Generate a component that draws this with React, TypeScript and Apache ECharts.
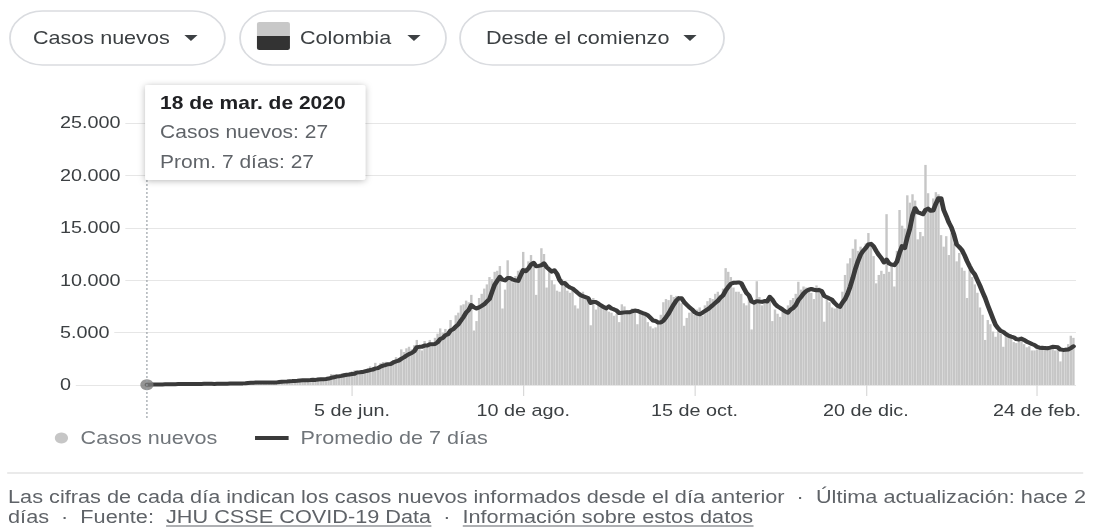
import React, { useEffect, useRef } from 'react';
import * as echarts from 'echarts';

// ---------- DATA (Colombia, new cases per day, from 18 Mar 2020) ----------
const startDate = '2020-03-18';

const dailyMar2020 = [27, 35, 48, 50, 73, 75, 71, 92, 47, 79, 115, 94, 96, 108];
const dailyApr2020 = [92, 98, 116, 81, 112, 98, 121, 111, 170, 60, 131, 98, 63, 197, 125, 127, 133, 135, 233, 110, 144, 180, 137, 187, 253, 310, 262, 202, 194, 208];
const dailyMay2020 = [223, 266, 220, 274, 286, 236, 264, 458, 440, 394, 408, 474, 359, 412, 537, 479, 574, 512, 406, 534, 525, 536, 701, 677, 575, 675, 597, 1046, 1018, 1026, 848];
const dailyJun2020 = [1093, 1109, 979, 1210, 1303, 1400, 1328, 1157, 1260, 1495, 1579, 1773, 1680, 2115, 1558, 2085, 2194, 2208, 2066, 2232, 2380, 2658, 2559, 3400, 3150, 3500, 3650, 3400, 3800, 4300];
const dailyJul2020 = [3700, 3300, 4200, 3650, 4300, 3700, 4500, 4900, 5400, 5000, 5350, 5100, 6200, 5300, 6650, 6900, 7600, 7700, 8050, 7900, 8600, 5200, 6100, 8300, 8700, 9200, 9600, 10300, 10100, 10800, 10900];
const dailyAug2020 = [11350, 7300, 9100, 11900, 10100, 9800, 10400, 10900, 11000, 12700, 11200, 11800, 12400, 11600, 8600, 11300, 13050, 12500, 9300, 10900, 10000, 9600, 9000, 8900, 10100, 9700, 9000, 8800, 9000, 7600, 7300];
const dailySep2020 = [8700, 8900, 8400, 8200, 5700, 8300, 7200, 7600, 7700, 7400, 7300, 7000, 6900, 6600, 6800, 6000, 7700, 7500, 7100, 6900, 7300, 7200, 5800, 7000, 6700, 6600, 6000, 5600, 5400, 5500];
const dailyOct2020 = [5900, 6700, 7900, 8200, 8100, 8600, 8400, 8500, 8300, 7800, 5650, 6400, 6900, 7000, 6700, 7200, 7400, 6600, 7600, 8000, 8300, 8200, 8700, 8900, 8600, 9200, 11150, 10800, 10300, 9300, 8900];
const dailyNov2020 = [8900, 8700, 7800, 7600, 8600, 5300, 8100, 9900, 8400, 7600, 8200, 8300, 8400, 6100, 7200, 6800, 6500, 7000, 7100, 7600, 8100, 8300, 8700, 9850, 9100, 9400, 9300, 9000, 8800, 8200];
const dailyDec2020 = [9500, 9300, 8600, 6040, 8200, 7900, 7400, 7300, 7600, 7700, 8900, 10500, 11600, 12100, 13000, 13900, 12800, 13200, 13000, 13500, 14500, 13400, 12300, 9700, 10500, 10900, 10600, 16300, 10800, 11600, 9400];
const dailyJan2021 = [12800, 16700, 15200, 14900, 18100, 17400, 18200, 17600, 13900, 14600, 14200, 21000, 18300, 16800, 17800, 18400, 18200, 14300, 13200, 14200, 12400, 14500, 13500, 11800, 12600, 11200, 10900, 8300, 11000, 10300, 9600];
const dailyFeb2021 = [8800, 7400, 6700, 4300, 6200, 5800, 5100, 4600, 5200, 4900, 3650, 4800, 4700, 4500, 4100, 4000, 4600, 4300, 3900, 3600, 3700, 3300, 3300, 3400, 3700, 3800, 3600, 3500];
const dailyMar2021 = [3700, 3800, 3300, 3500, 2250, 3400, 3600, 3900, 4700, 4500];

const avgMar2020 = [27, 31, 37, 40, 47, 51, 54, 63, 65, 70, 79, 82, 86, 90];
const avgApr2020 = [92, 97, 102, 100, 103, 104, 104, 105, 115, 108, 115, 113, 107, 118, 113, 117, 124, 125, 135, 141, 144, 150, 151, 155, 164, 192, 210, 226, 229, 231];
const avgMay2020 = [229, 235, 232, 239, 244, 244, 250, 277, 301, 322, 341, 366, 371, 392, 404, 437, 449, 464, 460, 478, 501, 487, 531, 552, 549, 577, 612, 686, 735, 809, 832];
const avgJun2020 = [868, 929, 983, 1006, 1046, 1082, 1203, 1212, 1234, 1305, 1360, 1425, 1467, 1580, 1610, 1755, 1850, 1912, 1987, 2005, 2166, 2254, 2328, 2496, 2630, 2800, 2950, 3050, 3220, 3600];
const avgJul2020 = [3640, 3660, 3760, 3760, 3890, 3880, 3910, 4080, 4380, 4490, 4740, 4850, 5210, 5320, 5570, 5790, 6160, 6490, 6910, 7160, 7630, 7420, 7310, 7410, 7550, 7710, 7960, 8200, 8900, 9570, 9940];
const avgAug2020 = [10320, 10050, 9980, 10210, 10210, 10060, 9990, 9930, 10460, 10970, 10870, 11110, 11490, 11660, 11330, 11370, 11420, 11610, 11250, 11040, 10810, 10950, 10620, 10030, 9690, 9740, 9470, 9300, 9210, 9010, 8790];
const avgSep2020 = [8590, 8470, 8390, 8300, 7830, 7930, 7910, 7760, 7590, 7440, 7310, 7500, 7300, 7210, 7100, 6860, 6900, 6930, 6940, 6940, 7040, 7100, 7070, 6970, 6860, 6790, 6660, 6410, 6160, 6110];
const avgOct2020 = [5960, 5960, 6140, 6460, 6810, 7270, 7690, 8060, 8290, 8270, 7910, 7660, 7420, 7220, 6960, 6810, 6750, 6890, 7060, 7210, 7400, 7610, 7830, 8040, 8330, 8560, 9010, 9360, 9660, 9750, 9750];
const avgNov2020 = [9790, 9720, 9240, 8790, 8540, 7970, 7860, 8000, 7960, 7930, 8010, 7970, 8410, 8130, 7740, 7510, 7360, 7190, 7010, 6900, 7190, 7340, 7610, 8090, 8390, 8720, 8960, 9090, 9160, 9090];
const avgDec2020 = [9040, 9070, 8960, 8490, 8380, 8250, 8130, 7820, 7580, 7450, 7860, 8190, 8710, 9390, 10200, 11100, 11830, 12440, 12800, 13070, 13410, 13470, 13240, 12800, 12410, 12110, 11700, 11960, 11590, 11490, 11440];
const avgJan2021 = [11770, 12600, 13260, 13060, 14100, 14930, 16190, 16870, 16470, 16390, 16290, 16700, 16830, 16630, 16660, 17300, 17810, 17830, 16710, 16130, 15500, 15030, 14330, 13410, 13170, 12890, 12410, 11830, 11330, 10870, 10560];
const avgFeb2021 = [10010, 9470, 8870, 8300, 7610, 6970, 6330, 5730, 5410, 5160, 5060, 4860, 4710, 4620, 4550, 4380, 4340, 4430, 4300, 4140, 4030, 3910, 3810, 3640, 3560, 3540, 3540, 3510];
const avgMar2021 = [3570, 3640, 3630, 3600, 3380, 3350, 3360, 3390, 3520, 3690];

const dailyCases = [
  ...dailyMar2020, ...dailyApr2020, ...dailyMay2020, ...dailyJun2020, ...dailyJul2020, ...dailyAug2020,
  ...dailySep2020, ...dailyOct2020, ...dailyNov2020, ...dailyDec2020, ...dailyJan2021, ...dailyFeb2021, ...dailyMar2021,
];
const sevenDayAvg = [
  ...avgMar2020, ...avgApr2020, ...avgMay2020, ...avgJun2020, ...avgJul2020, ...avgAug2020,
  ...avgSep2020, ...avgOct2020, ...avgNov2020, ...avgDec2020, ...avgJan2021, ...avgFeb2021, ...avgMar2021,
];

const tickDates = ['2020-06-05', '2020-08-10', '2020-10-15', '2020-12-20', '2021-02-24'];
const tickLabels = ['5 de jun.', '10 de ago.', '15 de oct.', '20 de dic.', '24 de feb.'];
const monthAbbr = ['ene.', 'feb.', 'mar.', 'abr.', 'may.', 'jun.', 'jul.', 'ago.', 'sept.', 'oct.', 'nov.', 'dic.'];
const seriesNames = ['Casos nuevos', 'Promedio de 7 días'];
const selectorLabels = ['Casos nuevos', 'Colombia', 'Desde el comienzo'];
const footerLine1 = 'Las cifras de cada día indican los casos nuevos informados desde el día anterior\u00a0 ·\u00a0 Última actualización: hace 2';
const footerPrefix = 'días\u00a0 ·\u00a0 Fuente:\u00a0 ';
const footerLink1 = 'JHU CSSE COVID-19 Data';
const footerSep = '\u00a0 ·\u00a0 ';
const footerLink2 = 'Información sobre estos datos';

// ---------- LAYOUT ----------
const W = 917;
const H = 529;
const SX = 1100 / W;
const FONT = '"Liberation Sans", Arial, Helvetica, sans-serif';

function dayIndex(iso: string): number {
  const [y, m, d] = iso.split('-').map(Number);
  const [y0, m0, d0] = startDate.split('-').map(Number);
  return Math.round((Date.UTC(y, m - 1, d) - Date.UTC(y0, m0 - 1, d0)) / 86400000);
}
function fmt(v: number): string {
  return String(Math.round(v)).replace(/\B(?=(\d{3})+(?!\d))/g, '.');
}
function measure(text: string, size: number, weight = 'normal'): number {
  const c = document.createElement('canvas').getContext('2d');
  if (!c) return text.length * size * 0.5;
  c.font = `${weight} ${size}px ${FONT}`;
  return c.measureText(text).width;
}

export default function App() {
  const ref = useRef<HTMLDivElement>(null);

  useEffect(() => {
    document.body.style.margin = '0';
    document.body.style.overflow = 'hidden';
    if (!ref.current) return;
    const chart = echarts.init(ref.current, undefined, { renderer: 'svg', width: W, height: H });
    const tickDays = tickDates.map(dayIndex);

    chart.setOption({
      animation: false,
      textStyle: { fontFamily: FONT },
      grid: { left: 50, right: 20, top: 123, bottom: H - 385 },
      xAxis: {
        type: 'value',
        min: -33.5,
        max: 358,
        axisLine: { show: false },
        splitLine: { show: false },
        axisTick: {
          show: true,
          customValues: tickDays,
          length: 11,
          lineStyle: { color: '#d9d9d9', width: 1 },
        },
        axisLabel: {
          customValues: tickDays,
          margin: 17,
          fontSize: 16.5,
          color: '#3c4043',
          formatter: (v: number) => {
            const i = tickDays.indexOf(Math.round(v));
            return i >= 0 ? tickLabels[i] : '';
          },
        },
      },
      yAxis: {
        type: 'value',
        min: 0,
        max: 25000,
        interval: 5000,
        axisLine: { show: false },
        axisTick: { show: false },
        splitLine: { lineStyle: { color: '#e6e6e6', width: 1 } },
        axisLabel: {
          inside: true,
          margin: 0,
          fontSize: 16.5,
          color: '#3c4043',
          backgroundColor: '#ffffff',
          padding: [2, 4, 2, 0],
          formatter: (v: number) => fmt(v),
        },
      },
      legend: [
        {
          data: [{ name: seriesNames[0], icon: 'circle' }],
          left: 45.7,
          top: 429,
          padding: 0,
          itemWidth: 22,
          itemHeight: 11,
          selectedMode: false,
          textStyle: { fontSize: 18, color: '#70757a', fontFamily: FONT, lineHeight: 18 },
        },
        {
          data: [{ name: seriesNames[1], icon: 'path://M0,0H28V4H0Z' }],
          left: 212.6,
          top: 429,
          padding: 0,
          itemWidth: 38,
          itemHeight: 4,
          selectedMode: false,
          textStyle: { fontSize: 18, color: '#70757a', fontFamily: FONT, lineHeight: 18 },
        },
      ],
      series: [
        {
          type: 'bar',
          name: seriesNames[0],
          data: dailyCases.map((v, i) => [i, v]),
          barWidth: 2.0,
          itemStyle: { color: '#c6c6c6' },
          silent: true,
          z: 2,
        },
        {
          type: 'line',
          name: seriesNames[1],
          data: sevenDayAvg.map((v, i) => [i, v]),
          showSymbol: false,
          symbol: 'none',
          lineStyle: { color: '#3a3a3a', width: 4, join: 'round', cap: 'round' },
          itemStyle: { color: '#3a3a3a' },
          silent: true,
          z: 3,
        },
        {
          type: 'scatter',
          name: 'hover',
          data: [[0, sevenDayAvg[0]]],
          symbolSize: 11,
          itemStyle: { color: '#7a7a7a' },
          silent: true,
          z: 5,
        },
      ],
    });

    const p = chart.convertToPixel({ xAxisIndex: 0, yAxisIndex: 0 }, [0, 0]) as number[];
    const px = p[0];
    const [sy, sm, sd] = startDate.split('-').map(Number);
    const title = `${sd} de ${monthAbbr[sm - 1]} de ${sy}`;

    const textStyle = (text: string, size: number, fill: string, weight = 'normal') => ({
      text,
      fontSize: size,
      fontFamily: FONT,
      fontWeight: weight,
      fill,
      verticalAlign: 'middle',
      textVerticalAlign: 'middle',
    });

    const pillTextColor = '#3c4043';
    const tri = (cx: number) => ({
      type: 'polygon',
      shape: { points: [[cx - 5.5, 35], [cx + 5.5, 35], [cx, 41]] },
      style: { fill: '#3c4043' },
    });

    const footSize = 18.1;
    const fx = 6.7;
    const l1s = measure(footerPrefix, footSize);
    const l1e = measure(footerPrefix + footerLink1, footSize);
    const l2s = measure(footerPrefix + footerLink1 + footerSep, footSize);
    const l2e = measure(footerPrefix + footerLink1 + footerSep + footerLink2, footSize);

    chart.setOption({
      graphic: [
        // selector pills
        { type: 'rect', shape: { x: 8.3, y: 11, width: 179.2, height: 54, r: 27 }, style: { fill: '#fff', stroke: '#dadce0', lineWidth: 1.5 } },
        { type: 'rect', shape: { x: 200.1, y: 11, width: 171.7, height: 54, r: 27 }, style: { fill: '#fff', stroke: '#dadce0', lineWidth: 1.5 } },
        { type: 'rect', shape: { x: 383.5, y: 11, width: 220.1, height: 54, r: 27 }, style: { fill: '#fff', stroke: '#dadce0', lineWidth: 1.5 } },
        { type: 'text', x: 27.5, y: 38, style: textStyle(selectorLabels[0], 18, pillTextColor) },
        tri(159.2),
        { type: 'rect', shape: { x: 214.2, y: 22, width: 27.5, height: 14, r: [2, 2, 0, 0] }, style: { fill: '#c8c8c8' } },
        { type: 'rect', shape: { x: 214.2, y: 36, width: 27.5, height: 14, r: [0, 0, 2, 2] }, style: { fill: '#333333' } },
        { type: 'text', x: 250.1, y: 38, style: textStyle(selectorLabels[1], 18, pillTextColor) },
        tri(345.1),
        { type: 'text', x: 405.1, y: 38, style: textStyle(selectorLabels[2], 18, pillTextColor) },
        tri(575.2),
        // hover guide line
        {
          type: 'line',
          z: 6,
          shape: { x1: px, y1: 180, x2: px, y2: 419 },
          style: { stroke: '#9aa0a6', lineWidth: 1, lineDash: [2, 2] },
        },
        // tooltip
        {
          type: 'rect',
          z: 20,
          shape: { x: px - 1.5, y: 85, width: 183.5, height: 95, r: 2 },
          style: { fill: '#ffffff', shadowBlur: 6, shadowColor: 'rgba(0,0,0,0.28)', shadowOffsetY: 1 },
        },
        { type: 'text', z: 21, x: px + 11, y: 103, style: textStyle(title, 17.5, '#202124', 'bold') },
        { type: 'text', z: 21, x: px + 11, y: 132, style: textStyle(`Casos nuevos: ${fmt(dailyCases[0])}`, 17.5, '#5f6368') },
        { type: 'text', z: 21, x: px + 11, y: 162, style: textStyle(`Prom. 7 días: ${fmt(sevenDayAvg[0])}`, 17.5, '#5f6368') },
        // footer
        { type: 'line', shape: { x1: 6, y1: 473, x2: 903, y2: 473 }, style: { stroke: '#e3e3e3', lineWidth: 1.5 } },
        { type: 'text', x: fx, y: 497, style: textStyle(footerLine1, footSize, '#5f6368') },
        { type: 'text', x: fx, y: 517, style: textStyle(footerPrefix + footerLink1 + footerSep + footerLink2, footSize, '#5f6368') },
        { type: 'line', shape: { x1: fx + l1s, y1: 526, x2: fx + l1e, y2: 526 }, style: { stroke: '#5f6368', lineWidth: 1 } },
        { type: 'line', shape: { x1: fx + l2s, y1: 526, x2: fx + l2e, y2: 526 }, style: { stroke: '#5f6368', lineWidth: 1 } },
      ],
    });

    return () => {
      chart.dispose();
    };
  }, []);

  return (
    <div
      ref={ref}
      style={{
        position: 'absolute',
        left: 0,
        top: 0,
        width: W,
        height: H,
        transform: `scaleX(${SX})`,
        transformOrigin: '0 0',
        background: '#fff',
      }}
    />
  );
}
